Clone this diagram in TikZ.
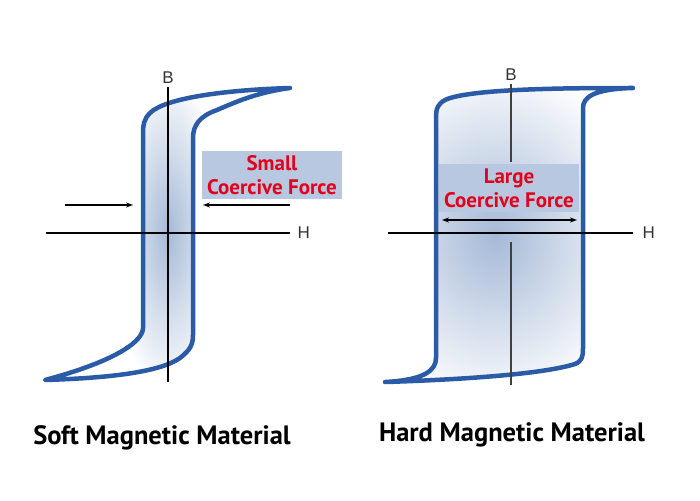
\documentclass[tikz,border=0pt]{standalone}
\usepackage{fontspec}
\setsansfont{PT Sans}
\newfontfamily\axisfont{Liberation Sans}
\usetikzlibrary{arrows.meta}

\definecolor{loopblue}{RGB}{43,91,166}
\definecolor{boxblue}{RGB}{185,200,225}
\definecolor{forcered}{RGB}{226,0,26}
\definecolor{shadeblue}{RGB}{165,185,215}

\begin{document}
\begin{tikzpicture}[x=1pt, y=-1pt,
    hyst/.style={draw=loopblue, line width=4.5pt, line join=round, line cap=round},
    axis/.style={line width=1.3pt},
    axlabel/.style={font=\axisfont\fontsize{17}{17}\selectfont, text=black!80},
    forcebox/.style={fill=boxblue, text=forcered, align=center, inner sep=0pt,
        font=\sffamily\bfseries\fontsize{21}{24}\selectfont,
        minimum width=140pt, minimum height=48pt},
    title/.style={font=\sffamily\bfseries\fontsize{26.5}{26.5}\selectfont}]
    \useasboundingbox (0,0) rectangle (700,500);

    % Soft loop
    \def\softloop{(290,88) .. controls (225,90) and (165,98) .. (150,113)
        .. controls (144,119) and (143,124) .. (143,135) -- (143,328)
        .. controls (143,340) and (120,360) .. (45,380)
        .. controls (110,378) and (160,372) .. (180,358)
        .. controls (190,350) and (193,345) .. (193,335) -- (193,138)
        .. controls (193,125) and (200,116) .. (217,110)
        .. controls (240,100) and (260,92) .. (290,88) -- cycle}
    \begin{scope}
        \clip \softloop;
        \shade[inner color=shadeblue, outer color=white] (168,232) ellipse (55 and 165);
    \end{scope}
    \draw[hyst] \softloop;

    % Hard loop
    \def\hardloop{(633,88) .. controls (580,88) and (470,88) .. (445,100)
        .. controls (438,104) and (436,108) .. (436,118) -- (436,358)
        .. controls (436,370) and (425,380) .. (385,382)
        .. controls (450,380) and (540,375) .. (575,364)
        .. controls (582,361) and (583,357) .. (583,348) -- (583,108)
        .. controls (583,98) and (592,89) .. (633,88) -- cycle}
    \begin{scope}
        \clip \hardloop;
        \shade[inner color=shadeblue, outer color=white] (495,235) ellipse (150 and 175);
    \end{scope}
    \draw[hyst] \hardloop;

    % Achsen links
    \coordinate (sB1) at (168,87);
    \coordinate (sB2) at (168,382);
    \coordinate (sH1) at (46,233);
    \coordinate (sH2) at (290,233);
    \draw[axis] (sB1) -- (sB2);
    \draw[axis] (sH1) -- (sH2);
    \node[axlabel, above] (sBlab) at (sB1) {B};
    \node[axlabel, right=4pt] (sHlab) at (sH2) {H};

    % Achsen rechts
    \coordinate (hB1) at (511,84);
    \coordinate (hB2) at (511,162);
    \coordinate (hB3) at (511,242);
    \coordinate (hB4) at (511,385);
    \coordinate (hH1) at (388,233);
    \coordinate (hH2) at (633,233);
    \draw[axis, black!75] (hB1) -- (hB2);
    \draw[axis, black!75] (hB3) -- (hB4);
    \draw[axis] (hH1) -- (hH2);
    \node[axlabel, above] (hBlab) at (hB1) {B};
    \node[axlabel, right=6pt] (hHlab) at (hH2) {H};

    % Koerzitivkraft
    \node[forcebox] (small) at (272,175) {Small\\Coercive Force};
    \node[forcebox] (large) at (509,188) {Large\\Coercive Force};

    \coordinate (a1) at (65,205);
    \coordinate (a2) at (133,205);
    \coordinate (a3) at (290,205);
    \coordinate (a4) at (203,205);
    \draw[-{Stealth[length=7pt,width=5pt]}, line width=1.2pt] (a1) -- (a2);
    \draw[-{Stealth[length=7pt,width=5pt]}, line width=1.2pt] (a3) -- (a4);
    \coordinate (b1) at (442,220);
    \coordinate (b2) at (577,220);
    \draw[{Stealth[length=7pt,width=5pt]}-{Stealth[length=7pt,width=5pt]}, line width=1.2pt] (b1) -- (b2);

    \node[title] (soft) at (162,438) {Soft Magnetic Material};
    \node[title] (hard) at (512,435) {Hard Magnetic Material};
\end{tikzpicture}
\end{document}
